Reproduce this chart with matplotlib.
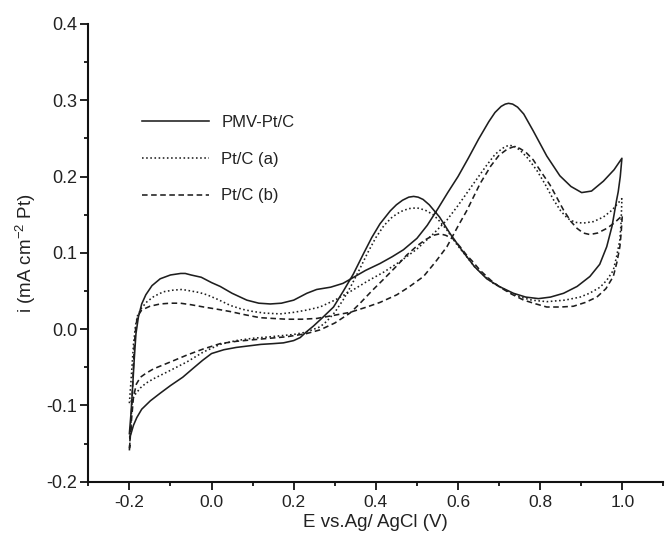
import matplotlib
matplotlib.use('Agg')
import matplotlib.pyplot as plt
from matplotlib.ticker import MultipleLocator, FormatStrFormatter

plt.rcParams['font.family'] = ['Liberation Sans', 'DejaVu Sans']
plt.rcParams['mathtext.fontset'] = 'custom'
plt.rcParams['mathtext.rm'] = 'Liberation Sans'
plt.rcParams['axes.unicode_minus'] = False

# ---------------- data ----------------
# PMV-Pt/C : anodic sweep (-0.2 -> 1.0) then cathodic sweep (1.0 -> -0.2)
pmv_E = [-0.200, -0.196, -0.192, -0.188, -0.184, -0.178, -0.170, -0.160, -0.145, -0.125,
         -0.100, -0.075, -0.064, -0.050, -0.025, 0.000, 0.021, 0.050, 0.086, 0.115,
         0.143, 0.170, 0.200, 0.232, 0.256, 0.290, 0.320, 0.346, 0.375, 0.410,
         0.440, 0.467, 0.500, 0.525, 0.550, 0.575, 0.600, 0.625, 0.650, 0.675,
         0.690, 0.705, 0.715, 0.723, 0.733, 0.745, 0.760, 0.783, 0.816, 0.848,
         0.875, 0.901, 0.925, 0.954, 0.980, 0.999,
         0.995, 0.990, 0.986, 0.975, 0.962, 0.945, 0.921, 0.890, 0.857, 0.825,
         0.796, 0.765, 0.735, 0.700, 0.670, 0.640, 0.610, 0.581, 0.555, 0.530,
         0.515, 0.503, 0.492, 0.480, 0.465, 0.450, 0.435, 0.410, 0.390, 0.370,
         0.345, 0.321, 0.297, 0.270, 0.248, 0.230, 0.216, 0.200, 0.175, 0.150,
         0.120, 0.090, 0.060, 0.030, 0.000, -0.022, -0.044, -0.070, -0.100, -0.125,
         -0.149, -0.170, -0.182, -0.190, -0.196, -0.199]
pmv_i = [-0.137, -0.110, -0.075, -0.038, -0.006, 0.016, 0.033, 0.045, 0.057, 0.066,
         0.071, 0.073, 0.073, 0.071, 0.068, 0.061, 0.056, 0.047, 0.038, 0.034,
         0.033, 0.034, 0.038, 0.047, 0.052, 0.055, 0.060, 0.068, 0.077, 0.086,
         0.095, 0.104, 0.119, 0.136, 0.157, 0.179, 0.200, 0.224, 0.249, 0.272,
         0.284, 0.292, 0.295, 0.296, 0.295, 0.291, 0.282, 0.260, 0.227, 0.201,
         0.187, 0.179, 0.181, 0.194, 0.209, 0.224,
         0.200, 0.180, 0.169, 0.135, 0.108, 0.085, 0.069, 0.056, 0.047, 0.042,
         0.040, 0.042, 0.047, 0.056, 0.066, 0.082, 0.103, 0.125, 0.147, 0.163,
         0.170, 0.173, 0.174, 0.173, 0.169, 0.163, 0.155, 0.138, 0.120, 0.099,
         0.072, 0.050, 0.029, 0.015, 0.004, -0.004, -0.011, -0.015, -0.018, -0.019,
         -0.020, -0.022, -0.024, -0.027, -0.032, -0.041, -0.051, -0.063, -0.074, -0.084,
         -0.094, -0.105, -0.116, -0.126, -0.137, -0.141]

# Pt/C (a)
pta_E = [-0.200, -0.195, -0.190, -0.185, -0.180, -0.170, -0.157, -0.140, -0.117, -0.095,
         -0.072, -0.050, -0.030, -0.011, 0.015, 0.046, 0.075, 0.102, 0.130, 0.167,
         0.200, 0.232, 0.264, 0.300, 0.340, 0.380, 0.420, 0.460, 0.500, 0.540,
         0.573, 0.600, 0.621, 0.650, 0.670, 0.690, 0.708, 0.723, 0.737, 0.752,
         0.770, 0.792, 0.812, 0.832, 0.850, 0.867, 0.885, 0.905, 0.930, 0.954,
         0.975, 0.999,
         0.997, 0.994, 0.986, 0.978, 0.962, 0.946, 0.920, 0.897, 0.860, 0.816,
         0.780, 0.751, 0.720, 0.686, 0.660, 0.640, 0.621, 0.597, 0.573, 0.556,
         0.540, 0.520, 0.500, 0.480, 0.460, 0.440, 0.420, 0.400, 0.380, 0.360,
         0.340, 0.320, 0.300, 0.280, 0.264, 0.230, 0.200, 0.143, 0.100, 0.060,
         0.021, -0.020, -0.060, -0.100, -0.141, -0.160, -0.173, -0.185, -0.194, -0.200]
pta_i = [-0.097, -0.060, -0.020, 0.005, 0.018, 0.028, 0.036, 0.043, 0.049, 0.051,
         0.052, 0.050, 0.048, 0.045, 0.039, 0.031, 0.026, 0.023, 0.021, 0.020,
         0.022, 0.025, 0.029, 0.038, 0.050, 0.063, 0.075, 0.089, 0.105, 0.125,
         0.143, 0.162, 0.178, 0.200, 0.215, 0.229, 0.237, 0.241, 0.240, 0.234,
         0.224, 0.208, 0.190, 0.170, 0.155, 0.145, 0.140, 0.139, 0.141, 0.147,
         0.156, 0.171,
         0.140, 0.117, 0.095, 0.077, 0.064, 0.055, 0.047, 0.042, 0.038, 0.036,
         0.038, 0.042, 0.050, 0.060, 0.072, 0.082, 0.095, 0.111, 0.130, 0.141,
         0.150, 0.156, 0.159, 0.158, 0.154, 0.147, 0.136, 0.120, 0.100, 0.078,
         0.057, 0.038, 0.022, 0.010, 0.003, -0.004, -0.007, -0.010, -0.012, -0.015,
         -0.020, -0.030, -0.043, -0.054, -0.065, -0.071, -0.077, -0.085, -0.093, -0.098]

# Pt/C (b)
ptb_E = [-0.200, -0.197, -0.194, -0.191, -0.188, -0.184, -0.180, -0.170, -0.150, -0.125,
         -0.100, -0.076, -0.050, -0.019, 0.015, 0.046, 0.080, 0.118, 0.150, 0.183,
         0.220, 0.256, 0.297, 0.337, 0.378, 0.410, 0.451, 0.480, 0.516, 0.545,
         0.573, 0.600, 0.621, 0.654, 0.680, 0.700, 0.720, 0.735, 0.750, 0.765,
         0.783, 0.800, 0.824, 0.840, 0.857, 0.875, 0.890, 0.905, 0.921, 0.940,
         0.962, 0.980, 1.000,
         0.997, 0.994, 0.987, 0.978, 0.960, 0.938, 0.910, 0.881, 0.850, 0.816,
         0.790, 0.760, 0.730, 0.702, 0.680, 0.654, 0.635, 0.621, 0.605, 0.589,
         0.570, 0.556, 0.540, 0.520, 0.500, 0.475, 0.451, 0.420, 0.390, 0.360,
         0.337, 0.300, 0.264, 0.230, 0.183, 0.120, 0.060, 0.021, -0.020, -0.060,
         -0.100, -0.141, -0.160, -0.173, -0.183, -0.190, -0.195, -0.200]
ptb_i = [-0.159, -0.130, -0.100, -0.060, -0.020, 0.005, 0.017, 0.025, 0.030, 0.033,
         0.034, 0.034, 0.032, 0.029, 0.026, 0.023, 0.019, 0.015, 0.014, 0.013,
         0.013, 0.014, 0.018, 0.022, 0.029, 0.035, 0.045, 0.055, 0.069, 0.088,
         0.108, 0.135, 0.155, 0.191, 0.214, 0.228, 0.236, 0.239, 0.237, 0.232,
         0.222, 0.208, 0.189, 0.173, 0.156, 0.141, 0.132, 0.126, 0.124, 0.126,
         0.132, 0.139, 0.149,
         0.125, 0.108, 0.088, 0.069, 0.053, 0.042, 0.035, 0.030, 0.029, 0.029,
         0.033, 0.038, 0.046, 0.055, 0.064, 0.077, 0.089, 0.097, 0.108, 0.118,
         0.123, 0.125, 0.123, 0.117, 0.109, 0.097, 0.083, 0.066, 0.050, 0.033,
         0.021, 0.008, -0.001, -0.006, -0.010, -0.013, -0.016, -0.019, -0.026, -0.034,
         -0.043, -0.052, -0.058, -0.063, -0.072, -0.089, -0.120, -0.159]

labels = ['PMV-Pt/C', 'Pt/C (a)', 'Pt/C (b)']
x_ticks = [-0.2, 0.0, 0.2, 0.4, 0.6, 0.8, 1.0]
y_ticks = [-0.2, -0.1, 0.0, 0.1, 0.2, 0.3, 0.4]

# ---------------- figure ----------------
W, H = 665, 545
fig = plt.figure(figsize=(W / 100, H / 100), dpi=100)
ax_l, ax_r, ax_b, ax_t = 88.3, 663.4, 481.7, 24.0
ax = fig.add_axes([ax_l / W, (H - ax_b) / H, (ax_r - ax_l) / W, (ax_b - ax_t) / H])

lc = '#1e1e1e'
ax.plot(pmv_E, pmv_i, color=lc, lw=1.15, ls='-', label=labels[0])
ax.plot(pta_E, pta_i, color=lc, lw=1.15, ls=(0, (1, 1.6)), label=labels[1])
ax.plot(ptb_E, ptb_i, color=lc, lw=1.15, ls=(0, (3.5, 2.2)), label=labels[2])

ax.set_xlim(-0.3, 1.1)
ax.set_ylim(-0.2, 0.4)
ax.set_xticks(x_ticks)
ax.set_yticks(y_ticks)
ax.xaxis.set_minor_locator(MultipleLocator(0.1))
ax.yaxis.set_minor_locator(MultipleLocator(0.05))
ax.xaxis.set_major_formatter(FormatStrFormatter('%.1f'))
ax.yaxis.set_major_formatter(FormatStrFormatter('%.1f'))

for s in ['top', 'right']:
    ax.spines[s].set_visible(False)
for s in ['left', 'bottom']:
    ax.spines[s].set_linewidth(1.5)
    ax.spines[s].set_color('#111111')

ax.tick_params(which='major', direction='out', length=5.5, width=1.3, colors='#111111')
ax.tick_params(which='minor', direction='out', length=3.2, width=1.3, colors='#111111')
ax.tick_params(axis='x', which='major', labelsize=12.5, pad=4)
ax.tick_params(axis='y', which='major', labelsize=13, pad=2.5)
for lab in ax.get_xticklabels() + ax.get_yticklabels():
    lab.set_color('#222222')

ax.set_xlabel('E vs.Ag/ AgCl (V)', fontsize=13.5, color='#222222', labelpad=3)
ax.set_ylabel(r'i (mA cm$^{\mathregular{-2}}$ Pt)', fontsize=13.5, color='#222222', labelpad=6)

leg = ax.legend(loc='upper left', bbox_to_anchor=(142 / W, 1 - 115 / H),
                bbox_transform=fig.transFigure, frameon=False, fontsize=12,
                handlelength=4.0, handletextpad=0.75, labelspacing=1.3,
                borderpad=0, borderaxespad=0)
for t in leg.get_texts():
    t.set_color('#222222')

fig.savefig('out.png', dpi=100)
